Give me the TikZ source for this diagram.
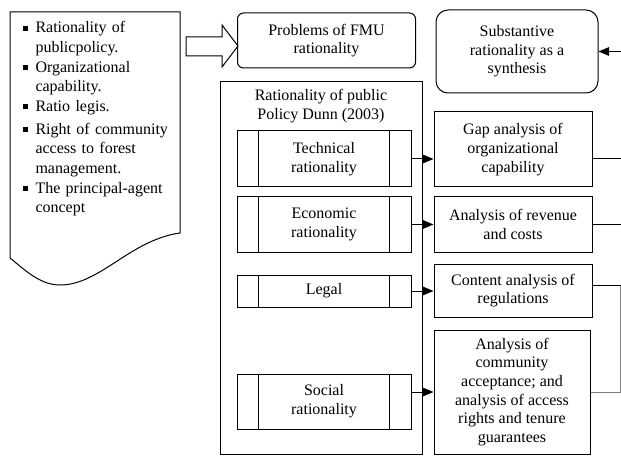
\documentclass[tikz,border=0pt]{standalone}
\usepackage{fontspec}
\setmainfont{Liberation Serif}
\usetikzlibrary{positioning,calc,arrows,arrows.meta}

\newcommand{\sqitem}[1]{\par\noindent\makebox[9.75pt][l]{\rule[0.3ex]{3.8pt}{3.8pt}}\parbox[t]{115pt}{\raggedright #1}\par}

\begin{document}
\begin{tikzpicture}[x=0.75pt, y=-0.75pt, >={Triangle[length=8pt,width=6.5pt]}, line width=0.75pt]
	\useasboundingbox (0,0) rectangle (621,456);
	\begin{scope}
		\tikzstyle{every node}=[align=center, inner sep=0.2em, font=\fontsize{12}{14}\selectfont]
		\tikzstyle{box}=[draw, rectangle, minimum width=118.5pt]
		\tikzstyle{proc}=[draw, rectangle, minimum width=130.5pt]

		% document with the list
		\draw (10,12) -- (180,12) -- (180,233) .. controls (130,240) and (100,285) .. (60,285) .. controls (40,285) and (25,270) .. (10,258) -- cycle;
		\node[anchor=north west, align=left, text width=125pt, inner sep=0pt, font=\fontsize{12}{14.5}\selectfont] (list) at (22,9) {\setlength{\parskip}{3pt}%
			\sqitem{Rationality of\\ publicpolicy.}
			\sqitem{Organizational\\ capability.}
			\sqitem{Ratio legis.}
			\sqitem{Right of community\\ access to forest\\ management.}
			\sqitem{The principal-agent\\ concept}};

		% block arrow
		\draw (186,37) -- (222,37) -- (222,25) -- (238,46) -- (222,67) -- (222,56) -- (186,56) -- cycle;

		\node[draw, rounded corners=4.5pt, minimum width=133.5pt, minimum height=41.25pt] (prob) at (326.5,40.5) {Problems of FMU\\rationality};
		\node[draw, rounded corners=9pt, minimum width=121.5pt, minimum height=62.25pt] (subst) at (517,51.5) {Substantive\\rationality as a\\synthesis};

		% Dunn (2003)
		\node[draw, minimum width=151.5pt, minimum height=279pt] (dunn) at (321,268) {};
		\node (title) at (321,106) {Rationality of public\\Policy Dunn (2003)};

		\node[proc, minimum height=42pt]    (tech)   at (324,159)   {Technical\\rationality};
		\node[proc, minimum height=41.25pt] (econ)   at (324,224.5) {Economic\\rationality};
		\node[proc, minimum height=24pt]    (legal)  at (324,291)   {Legal};
		\node[proc, minimum height=41.25pt] (social) at (324,401.5) {Social\\rationality};
		\foreach \n in {tech,econ,legal,social}{
			\draw ([xshift=16.5pt]\n.north west) -- ([xshift=16.5pt]\n.south west);
			\draw ([xshift=-16.5pt]\n.north east) -- ([xshift=-16.5pt]\n.south east);
		}

		% analyses
		\node[box, minimum height=56.25pt] (gap)  at (513,149.5) {Gap analysis of\\organizational\\capability};
		\node[box, minimum height=41.25pt] (rev)  at (513,224.5) {Analysis of revenue\\and costs};
		\node[box, minimum height=39.75pt] (cont) at (513,290.5) {Content analysis of\\regulations};
		\node[box, minimum width=117pt, minimum height=93pt] (acc) at (512,392) {Analysis of\\community\\acceptance; and\\analysis of access\\rights and tenure\\guarantees};

		\coordinate (rim) at (620.5,0);

		\draw [->] (tech.east) -- (tech.east -| gap.west);
		\draw [->] (econ.east) -- (econ.east -| rev.west);
		\draw [->] (legal.east) -- (legal.east -| cont.west);
		\draw [->] (acc.west -| social.east) -- (acc.west);

		\draw (tech.east -| gap.east) -- (tech.east -| rim);
		\draw (rev.east) -- (rev.east -| rim);
		\draw ([yshift=3.5pt]cont.east) -- ([yshift=3.5pt]cont.east -| rim);
		\draw [gray] (acc.east) -| ([yshift=3.5pt]cont.east -| rim);
		\draw [->] (rim |- subst.east) -- (subst.east);

	\end{scope}
\end{tikzpicture}
\end{document}
